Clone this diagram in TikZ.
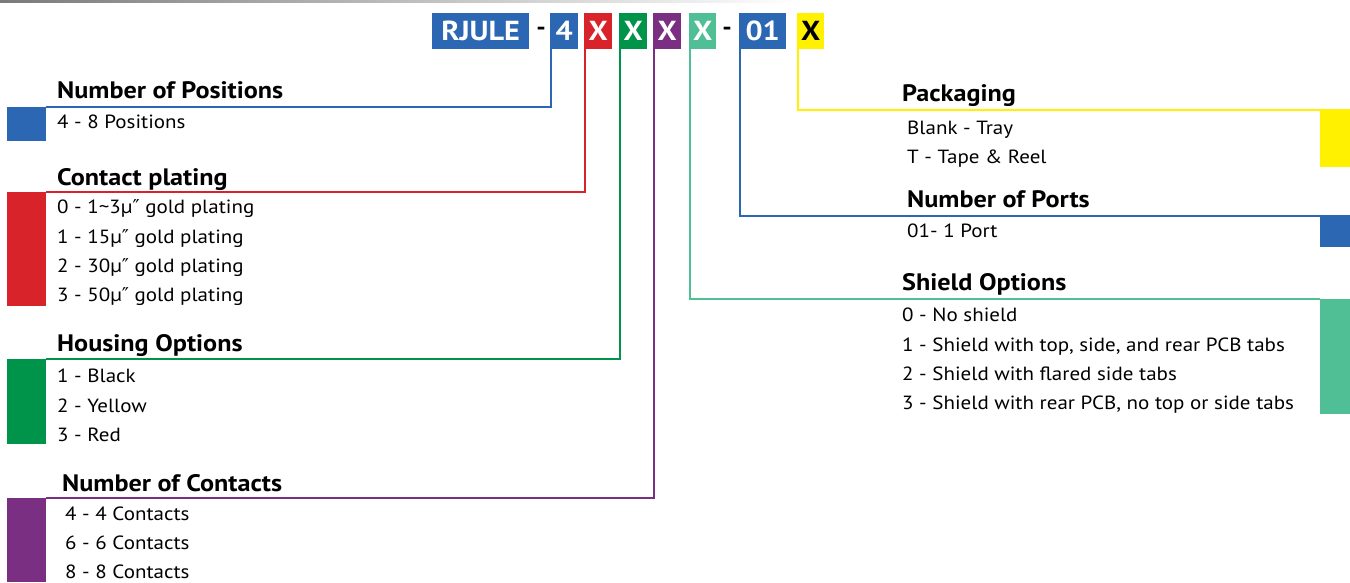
\documentclass[tikz,border=0pt]{standalone}
\usepackage{fontspec}
\setmainfont{PT Sans}[FakeStretch=1.1]
\newfontfamily\symfont{DejaVu Sans}
\newcommand\dprm{{\symfont ″}}
\definecolor{cblue}{HTML}{2B67B2}
\definecolor{cred}{HTML}{D9232A}
\definecolor{cgreen}{HTML}{00934A}
\definecolor{cpurple}{HTML}{7A2F83}
\definecolor{cteal}{HTML}{50BF95}
\definecolor{cyellow}{HTML}{FFF100}
\definecolor{cgray}{HTML}{7A7A7A}
\begin{document}
\begin{tikzpicture}[x=1pt,y=-1pt,
  codebox/.style={inner sep=0pt, minimum height=36pt, anchor=north west, text=white,
    font=\fontsize{27.5}{30}\selectfont\bfseries},
  dashtxt/.style={inner sep=0pt, font=\fontsize{24}{26}\selectfont\bfseries},
  bar/.style={inner sep=0pt, anchor=north west},
  head/.style={inner sep=0pt, anchor=base west, font=\fontsize{23.8}{26}\selectfont\bfseries},
  item/.style={inner sep=0pt, anchor=base west, font=\fontsize{19.1}{22}\selectfont},
  link/.style={line width=2pt}
]
\useasboundingbox (0,0) rectangle (1350,582);
\shade[left color=cgray, right color=white] (0,0) rectangle (800,2.5);

% code boxes
\node[codebox, fill=cblue, minimum width=97pt] (rjule) at (432,13) {RJULE};
\node[dashtxt] (d1) at (541,31) {-};
\node[codebox, fill=cblue, minimum width=28pt] (b4) at (550,13) {4};
\node[codebox, fill=cred, minimum width=28pt] (bx1) at (584,13) {X};
\node[codebox, fill=cgreen, minimum width=28pt] (bx2) at (619,13) {X};
\node[codebox, fill=cpurple, minimum width=28pt] (bx3) at (653,13) {X};
\node[codebox, fill=cteal, minimum width=27pt] (bx4) at (689,13) {X};
\node[dashtxt] (d2) at (727,31) {-};
\node[codebox, fill=cblue, minimum width=47pt] (b01) at (739,13) {01};
\node[codebox, fill=cyellow, minimum width=27pt, text=black] (bx5) at (797,13) {X};

% colour bars
\node[bar, fill=cblue, minimum width=39pt, minimum height=34pt] (rpos) at (7,107) {};
\node[bar, fill=cred, minimum width=39pt, minimum height=114pt] (rplat) at (7,192) {};
\node[bar, fill=cgreen, minimum width=39pt, minimum height=85pt] (rhous) at (7,359) {};
\node[bar, fill=cpurple, minimum width=39pt, minimum height=84pt] (rcont) at (7,498) {};
\node[bar, fill=cyellow, minimum width=30pt, minimum height=58pt] (rpack) at (1320,109) {};
\node[bar, fill=cblue, minimum width=30pt, minimum height=32pt] (rport) at (1320,215) {};
\node[bar, fill=cteal, minimum width=30pt, minimum height=115pt] (rshld) at (1320,299) {};

% connectors
\draw[link, cblue] ([xshift=1pt]b4.south west) |- (rpos.north east);
\draw[link, cred] ([xshift=1pt]bx1.south west) |- (rplat.north east);
\draw[link, cgreen] ([xshift=1pt]bx2.south west) |- (rhous.north east);
\draw[link, cpurple] ([xshift=1pt]bx3.south west) |- (rcont.north east);
\draw[link, cteal] ([xshift=1pt]bx4.south west) |- (rshld.north west);
\draw[link, cblue] ([xshift=1pt]b01.south west) |- ([yshift=-1pt]rport.north west);
\draw[link, cyellow] ([xshift=1pt]bx5.south west) |- ([yshift=-1pt]rpack.north west);

% left texts
\node[head] (hpos) at (57,98.5) {Number of Positions};
\node[item] (ipos) at (57,128.5) {4 - 8 Positions};
\node[head] (hplat) at (57,185.5) {Contact plating};
\node[item] (ip0) at (57,213.5) {0 - 1\textasciitilde3µ\dprm\ gold plating};
\node[item] (ip1) at (57,243.5) {1 - 15µ\dprm\ gold plating};
\node[item] (ip2) at (57,272.5) {2 - 30µ\dprm\ gold plating};
\node[item] (ip3) at (57,301.5) {3 - 50µ\dprm\ gold plating};
\node[head] (hhous) at (57,351.5) {Housing Options};
\node[item] (ih1) at (57,382.5) {1 - Black};
\node[item] (ih2) at (57,412.5) {2 - Yellow};
\node[item] (ih3) at (57,441.5) {3 - Red};
\node[head] (hcont) at (62,491.5) {Number of Contacts};
\node[item] (ic4) at (65,520.5) {4 - 4 Contacts};
\node[item] (ic6) at (65,549.5) {6 - 6 Contacts};
\node[item] (ic8) at (65,578.5) {8 - 8 Contacts};

% right texts
\node[head] (hpack) at (902,101.5) {Packaging};
\node[item] (ik1) at (907,134.5) {Blank - Tray};
\node[item] (ik2) at (907,163.5) {T - Tape \& Reel};
\node[head] (hport) at (907,207.5) {Number of Ports};
\node[item] (it1) at (907,237.5) {01- 1 Port};
\node[head] (hshld) at (902,290.5) {Shield Options};
\node[item] (is0) at (902,321.5) {0 - No shield};
\node[item] (is1) at (902,351.5) {1 - Shield with top, side, and rear PCB tabs};
\node[item] (is2) at (902,380.5) {2 - Shield with flared side tabs};
\node[item] (is3) at (902,409.5) {3 - Shield with rear PCB, no top or side tabs};
\end{tikzpicture}
\end{document}
